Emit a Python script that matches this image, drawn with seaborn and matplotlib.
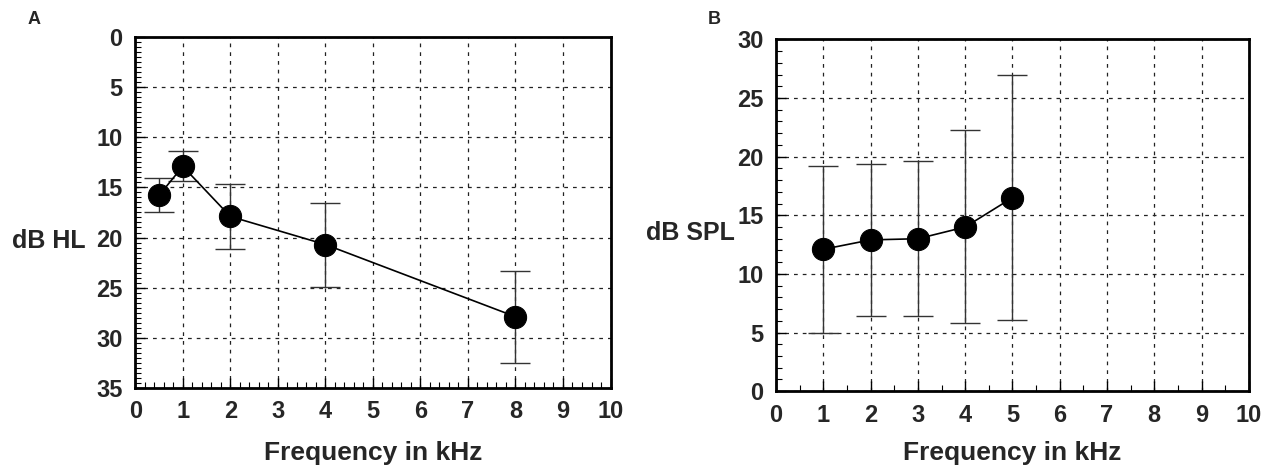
import pandas as pd
import numpy as np
import matplotlib
matplotlib.use("Agg")
import matplotlib.pyplot as plt
import seaborn as sns
from matplotlib.ticker import MultipleLocator

# Panel A: hearing thresholds (dB HL)
freq_a = [0.5, 1, 2, 4, 8]
mean_a = [15.8, 12.9, 17.9, 20.7, 27.9]
low_a = [14.1, 11.4, 14.7, 16.6, 23.3]
high_a = [17.5, 14.4, 21.1, 24.9, 32.5]

# Panel B: dB SPL
freq_b = [1, 2, 3, 4, 5]
mean_b = [12.1, 12.9, 13.0, 14.0, 16.5]
low_b = [5.0, 6.4, 6.4, 5.8, 6.1]
high_b = [19.2, 19.4, 19.6, 22.3, 27.0]

sns.set_style("white")
plt.rcParams['font.family'] = ['Liberation Sans', 'DejaVu Sans']
plt.rcParams['font.weight'] = 'bold'

fig = plt.figure(figsize=(12.64, 4.69), dpi=100)
ax_a = fig.add_axes([0.107, 0.173, 0.376, 0.748])
ax_b = fig.add_axes([0.614, 0.166, 0.374, 0.750])


def draw_panel(ax, freq, mean, low, high, ylim, ylabel, minor_x, minor_y, xlab_y):
    df = pd.DataFrame({"freq": freq, "mean": mean})
    yerr = np.array([np.array(mean) - np.array(low), np.array(high) - np.array(mean)])
    ax.errorbar(freq, mean, yerr=np.abs(yerr), fmt='none', ecolor='#333333',
                elinewidth=1.0, capsize=11, capthick=1.0, zorder=2)
    sns.lineplot(data=df, x="freq", y="mean", ax=ax, color='black', lw=1.2,
                 marker='o', markersize=16, markeredgecolor='black', zorder=3)
    ax.set_xlim(0, 10)
    ax.set_ylim(*ylim)
    ax.xaxis.set_major_locator(MultipleLocator(1))
    ax.yaxis.set_major_locator(MultipleLocator(5))
    ax.xaxis.set_minor_locator(MultipleLocator(minor_x))
    ax.yaxis.set_minor_locator(MultipleLocator(minor_y))
    ax.grid(True, which='major', color='#222222', linestyle=(0, (3, 4)), lw=0.9)
    ax.tick_params(which='both', direction='in', color='black',
                   bottom=True, left=True, top=False, right=False)
    ax.tick_params(which='major', length=7, width=1, labelsize=17, pad=9)
    ax.tick_params(which='minor', length=4, width=0.8)
    for s in ax.spines.values():
        s.set_color('black')
        s.set_linewidth(2)
    ax.set_xlabel("Frequency in kHz", fontsize=19, fontweight='bold', va='top')
    ax.xaxis.set_label_coords(0.5, xlab_y)
    ax.set_ylabel(ylabel, fontsize=18, fontweight='bold', rotation=0, ha='right',
                  va='center')
    for lab in ax.get_xticklabels() + ax.get_yticklabels():
        lab.set_fontweight('bold')


draw_panel(ax_a, freq_a, mean_a, low_a, high_a, (35, 0), "dB HL", 0.2, 0.5, -0.152)
draw_panel(ax_b, freq_b, mean_b, low_b, high_b, (0, 30), "dB SPL", 0.5, 1, -0.143)
ax_a.yaxis.set_label_coords(-0.105, 0.42)
ax_b.yaxis.set_label_coords(-0.087, 0.45)

fig.text(28 / 1264, 1 - 20 / 469, "A", fontsize=13, fontweight='bold', va='center')
fig.text(708 / 1264, 1 - 20 / 469, "B", fontsize=13, fontweight='bold', va='center')

fig.savefig("out.png", dpi=100)
